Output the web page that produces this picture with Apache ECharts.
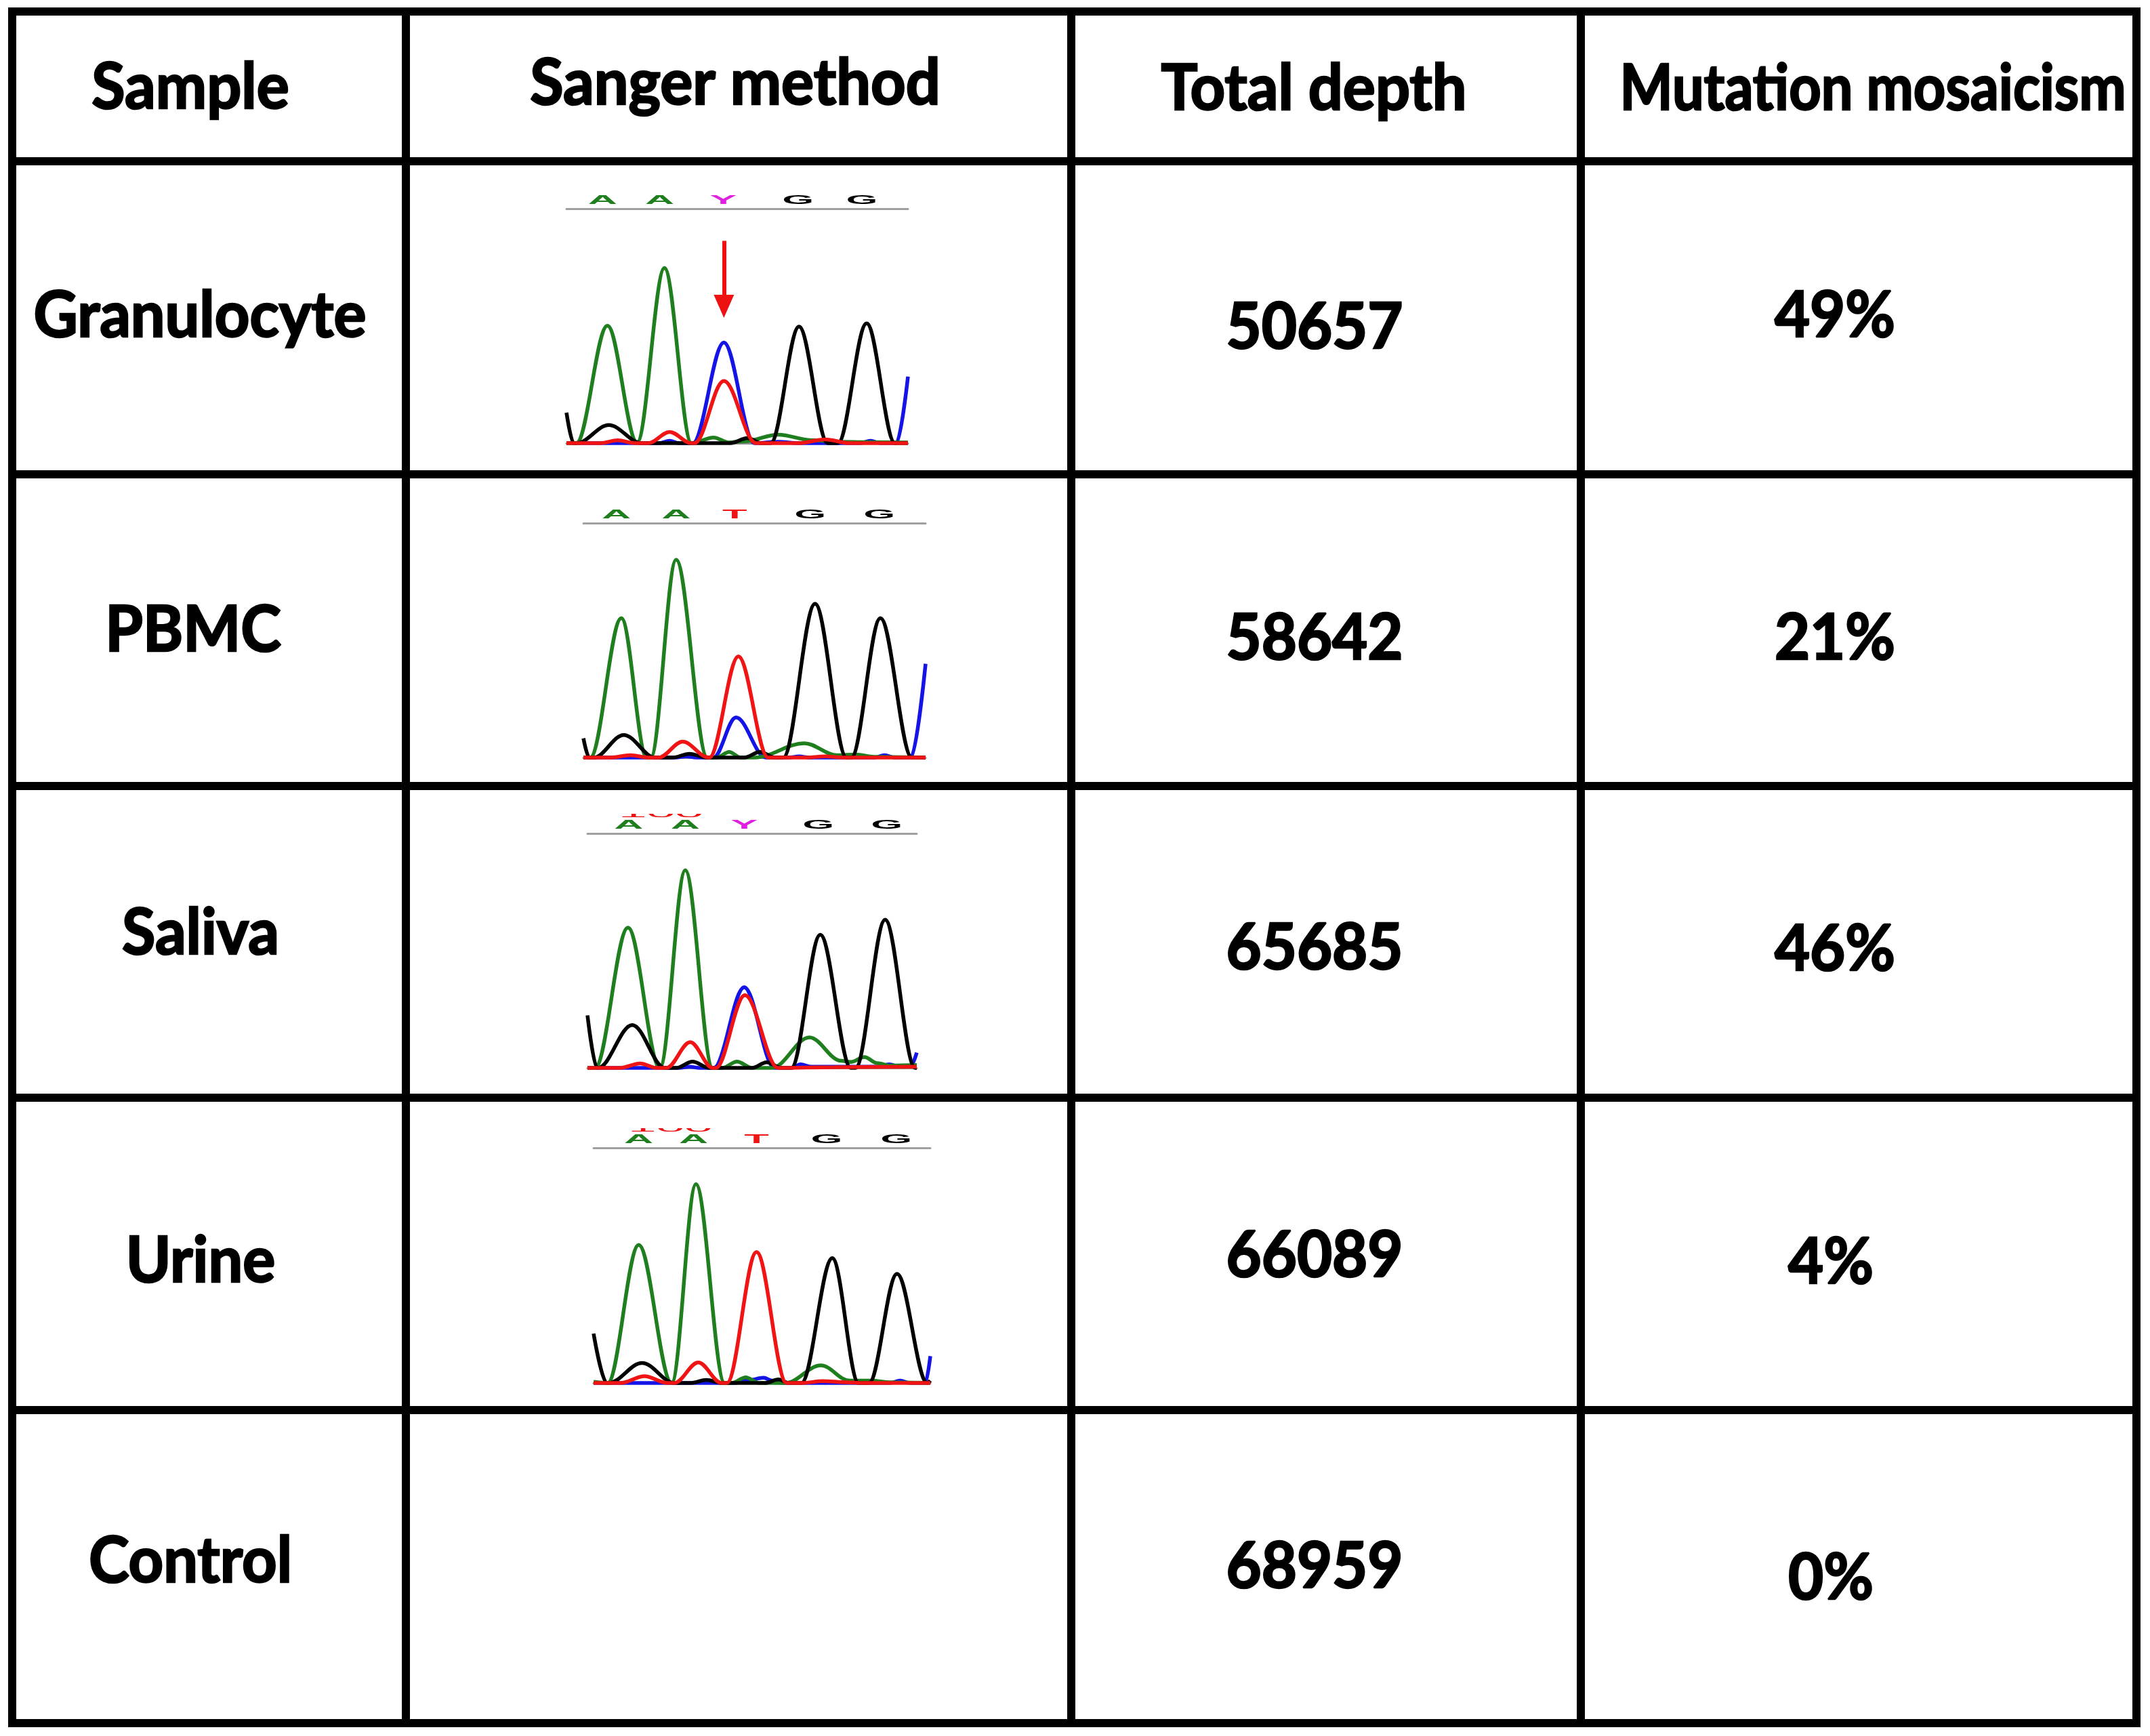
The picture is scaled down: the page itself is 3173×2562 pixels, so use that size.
<!DOCTYPE html>
<html>
<head>
<meta charset="utf-8">
<script src="https://cdn.jsdelivr.net/npm/echarts@6/dist/echarts.min.js"></script>
<style>
html, body { margin: 0; padding: 0; background: #fff; }
#main { width: 3173px; height: 2562px; }
</style>
</head>
<body>
<div id="main"></div>
<script>
// table text
var headers = ["Sample", "Sanger method", "Total depth", "Mutation mosaicism"];
var samples = ["Granulocyte", "PBMC", "Saliva", "Urine", "Control"];
var totalDepth = [50657, 58642, 65685, 66089, 68959];
var mosaicism = ["49%", "21%", "46%", "4%", "0%"];

// base calls above each trace (x is 0-100 across the trace)
var granCalls = ["A", "A", "Y", "G", "G"];
var granCallX = [10.6, 27.3, 45.9, 67.8, 86.5];
var pbmcCalls = ["A", "A", "T", "G", "G"];
var pbmcCallX = [9.6, 27.1, 44.2, 66.3, 86.5];
var salivaCalls = ["A", "A", "Y", "G", "G"];
var salivaCallX = [12.5, 29.7, 47.6, 70.1, 90.9];
var urineCalls = ["A", "A", "T", "G", "G"];
var urineCallX = [13.4, 29.7, 48.4, 69.2, 89.9];

// position number cut off at the top of the saliva and urine traces
var posLabel = "100";
var salivaPosX = [22.3];
var urinePosX = [22.8];

// chromatogram traces, [x, signal] (signal 0 = baseline, 100 = base-call line)
var granA = [[0,0],[2.9,0],[12.0,50.1],[20.7,0.3],[28.7,74.7],[36.6,0],[43.1,2.4],[47.5,0.3],[52,0.8],[62,3.6],[72,1.2],[80,0.6],[88,0.4],[100,0.3]];
var granC = [[0,0],[27,0],[30.2,1],[33,0],[37,0],[46.1,42.9],[55,0],[62,0.6],[68,0],[86,0],[89,1],[92,0],[96.6,0],[100,28.4]];
var granG = [[0,13],[2.1,0],[3,0],[12.4,7.7],[22,0],[48,0],[53,2.2],[57,0],[59.8,0],[68.1,49.7],[76.5,0],[79.5,0],[87.9,51.1],[96.2,0],[100,0]];
var granT = [[0,0],[10,0],[15,1.2],[20,0],[24,0],[30.2,4.8],[36.5,0],[37.5,0],[46.1,26.5],[55.5,0],[68,0],[75.7,1.6],[83,0],[100,0]];

var pbmcA = [[0,0],[2,0],[11.1,59.5],[18.5,0],[19.7,0],[27.1,84.4],[36.2,0],[39,0],[42.6,2.4],[46,0],[50,0],[64.6,6.1],[74,1],[79.6,1.3],[85,0.3],[100,0]];
var pbmcC = [[0,0],[27,0],[30,0.5],[33,0],[38,0],[44.6,17.1],[53.3,0],[60,0],[63,0.5],[66,0],[85,0],[88,1],[91,0],[95.7,0],[100,40]];
var pbmcG = [[0,8.2],[1.7,0],[3,0],[11.8,9.6],[21,0],[26,0],[31,1.6],[36,0],[47,0],[51.6,2.4],[56,0],[58.4,0],[67.7,65.6],[76.9,0],[78.3,0],[86.8,59.5],[96,0],[100,0]];
var pbmcT = [[0,0],[8,0],[13.7,1],[19,0],[22,0],[29,6.8],[36.6,0],[36.8,0],[45.3,43.1],[54,0],[65,0],[70.7,0.5],[76,0],[100,0]];

var salivaA = [[0,0],[2.3,0],[12.3,59.8],[22,0],[29.7,84.3],[38,0],[41,0],[45.4,2.7],[50,0],[56,0],[67.4,13.0],[77,3],[80,2.5],[84.1,4.6],[88,2],[92,1],[100,1.2]];
var salivaC = [[0,0],[28,0],[31,0.5],[34,0],[38.4,0],[47.6,34.4],[56.8,0],[62,0],[64.7,1.5],[68,0.5],[88,0.5],[91.6,1.5],[95,0.5],[98,0.5],[100,6.5]];
var salivaG = [[0,22.4],[2.9,0],[3.2,0],[13.6,18.3],[23.5,0],[27,0],[31.9,2.7],[37,0],[50,0],[54.4,2.4],[59,0],[61.9,0],[70.7,56.8],[80,0],[81.4,0],[90.4,63.2],[99.5,0],[100,0]];
var salivaT = [[0,0],[10,0],[16,1.9],[21,0],[24,0],[31.2,11.0],[38,0],[39,0],[47.8,31.0],[57.9,0],[75,0.3],[90,0.4],[100,0.5]];

var urineA = [[0,0.5],[4.2,0],[13.4,58.7],[23.2,0],[30.4,84.6],[38.9,0],[41,0],[45.2,2.4],[49,0],[57,0],[67.5,7.5],[76,1],[82.4,1],[88,0.3],[100,0]];
var urineC = [[0,0],[42,0],[46,1.2],[50.5,2.2],[53,1],[56,0],[88,0],[91,1],[94,0],[98.5,0],[100,11.4]];
var urineG = [[0,21],[3.9,0],[4.5,0],[14.4,8.5],[24,0],[29,0],[33.5,1.3],[38,0],[51,0],[54.9,1.5],[58,0],[61.7,0],[70.9,53.1],[78.7,0],[81.8,0],[90.1,46.4],[99.1,0],[100,1]];
var urineT = [[0,0],[8,0],[15.1,2.9],[22,0],[24,0],[31.1,8.7],[38,0],[39.6,0],[48.4,55.7],[57.3,0],[62,0],[68,0.8],[75,0.3],[80,0],[100,0]];

// red arrow over the granulocyte mixed peak: x, top, tip
var granArrow = [46.1, 86.3, 53.5];

var baseColor = { A: "#1f7f1f", C: "#1414e6", G: "#000000", T: "#f01414", Y: "#e020e0" };

var traces = [
    { calls: granCalls, callX: granCallX, pos: [], A: granA, C: granC, G: granG, T: granT },
    { calls: pbmcCalls, callX: pbmcCallX, pos: [], A: pbmcA, C: pbmcC, G: pbmcG, T: pbmcT },
    { calls: salivaCalls, callX: salivaCallX, pos: salivaPosX, A: salivaA, C: salivaC, G: salivaG, T: salivaT },
    { calls: urineCalls, callX: urineCallX, pos: urinePosX, A: urineA, C: urineC, G: urineG, T: urineT }
];

// layout (pixels)
var colX = [18, 599, 1581, 2333, 3153];
var rowY = [17, 238, 700, 1160, 1620, 2081, 2543];
var traceBox = [ // left, top, width, height
    [836, 308, 504, 346],
    [861, 772, 505, 346],
    [867, 1230, 486, 346],
    [876, 1694, 497, 347]
];
var arrowHead = [30, 34];
var sampleTextPos = [[281, 130], [295, 467], [285, 931], [296, 1378], [296, 1862], [281, 2305]];
var sangerTextPos = [1085, 124];
var depthTextPos = [[1939, 132], [1940, 484], [1940, 943], [1940, 1400], [1940, 1854], [1940, 2313]];
var mosTextPos = [[2764, 132], [2708, 467], [2708, 943], [2708, 1402], [2702, 1864], [2702, 2330]];

var chart = echarts.init(document.getElementById("main"), null, { renderer: "canvas" });

var grids = [], xAxes = [], yAxes = [], series = [];
traces.forEach(function (t, i) {
    var b = traceBox[i];
    grids.push({ left: b[0], top: b[1], width: b[2], height: b[3] });
    // bottom baseline + top base-call line
    xAxes.push({ gridIndex: i, type: "value", min: 0, max: 100, position: "bottom",
        axisLine: { show: true, onZero: false, lineStyle: { color: "#8c8c8c", width: 3 } },
        axisTick: { show: false }, axisLabel: { show: false }, splitLine: { show: false } });
    xAxes.push({ gridIndex: i, type: "value", min: 0, max: 100, position: "top",
        axisLine: { show: true, onZero: false, lineStyle: { color: "#a0a0a0", width: 3 } },
        axisTick: { show: false }, axisLabel: { show: false }, splitLine: { show: false } });
    yAxes.push({ gridIndex: i, type: "value", min: 0, max: 100, show: false });

    ["C", "A", "G", "T"].forEach(function (base) {
        var s = {
            type: "line", xAxisIndex: 2 * i, yAxisIndex: i,
            data: t[base], showSymbol: false, smooth: 0.35, smoothMonotone: "x",
            clip: false, silent: true,
            lineStyle: { color: baseColor[base], width: 5.5 }
        };
        if (i === 0 && base === "T") {
            // line ends at the centre of the arrow head, so the head's tip lands on the tip value
            var headCentre = granArrow[2] + arrowHead[1] / 2 / b[3] * 100;
            s.markLine = {
                silent: true, symbol: ["none", "triangle"], symbolSize: arrowHead,
                label: { show: false },
                lineStyle: { color: "#ee1111", width: 6, type: "solid" },
                data: [[{ coord: [granArrow[0], granArrow[1]] }, { coord: [granArrow[0], headCentre] }]]
            };
        }
        series.push(s);
    });

    // base letters
    series.push({
        type: "custom", xAxisIndex: 2 * i, yAxisIndex: i, clip: false, silent: true,
        data: t.callX.map(function (x) { return [x, 100]; }),
        renderItem: function (params, api) {
            var p = api.coord([api.value(0), api.value(1)]);
            var ch = t.calls[params.dataIndex];
            return {
                type: "text", x: p[0], y: p[1] - 3, scaleX: 2.3, scaleY: 0.68,
                style: { text: ch, fill: baseColor[ch], font: 'bold 26px "Liberation Sans"',
                    align: "center", verticalAlign: "bottom" }
            };
        }
    });

    // half-hidden position number
    if (t.pos.length) {
        series.push({
            type: "custom", xAxisIndex: 2 * i, yAxisIndex: i, clip: false, silent: true,
            data: t.pos.map(function (x) { return [x, 100]; }),
            renderItem: function (params, api) {
                var p = api.coord([api.value(0), api.value(1)]);
                return {
                    type: "group",
                    clipPath: { type: "rect", shape: { x: p[0] - 80, y: p[1] - 29, width: 160, height: 6 } },
                    children: [{
                        type: "text", x: p[0], y: p[1] - 29, scaleX: 3.4, scaleY: 0.75,
                        style: { text: posLabel, fill: "#ee1111", font: '22px "Liberation Sans"',
                            align: "center", verticalAlign: "middle" }
                    }]
                };
            }
        });
    }
});

// table rules and text
var elements = [];
var lw = 12;
rowY.forEach(function (y) {
    elements.push({ type: "line", shape: { x1: colX[0] - lw / 2, y1: y, x2: colX[colX.length - 1] + lw / 2, y2: y },
        style: { stroke: "#000", lineWidth: lw } });
});
colX.forEach(function (x) {
    elements.push({ type: "line", shape: { x1: x, y1: rowY[0] - lw / 2, x2: x, y2: rowY[rowY.length - 1] + lw / 2 },
        style: { stroke: "#000", lineWidth: lw } });
});
function cellText(txt, pos, sx) {
    elements.push({ type: "text", x: pos[0], y: pos[1], scaleX: sx || 1, scaleY: 1.04,
        style: { text: txt, fill: "#000", stroke: "#000", lineWidth: 2.5,
            font: 'bold 90px Lato', align: "center", verticalAlign: "middle" } });
}
cellText(headers[0], sampleTextPos[0]);
cellText(headers[1], sangerTextPos);
cellText(headers[2], depthTextPos[0]);
cellText(headers[3], mosTextPos[0], 0.92);
samples.forEach(function (s, i) {
    cellText(s, sampleTextPos[i + 1]);
    cellText(String(totalDepth[i]), depthTextPos[i + 1]);
    cellText(mosaicism[i], mosTextPos[i + 1]);
});

chart.setOption({
    animation: false,
    backgroundColor: "#ffffff",
    grid: grids,
    xAxis: xAxes,
    yAxis: yAxes,
    series: series,
    graphic: { elements: elements }
});
</script>
</body>
</html>
